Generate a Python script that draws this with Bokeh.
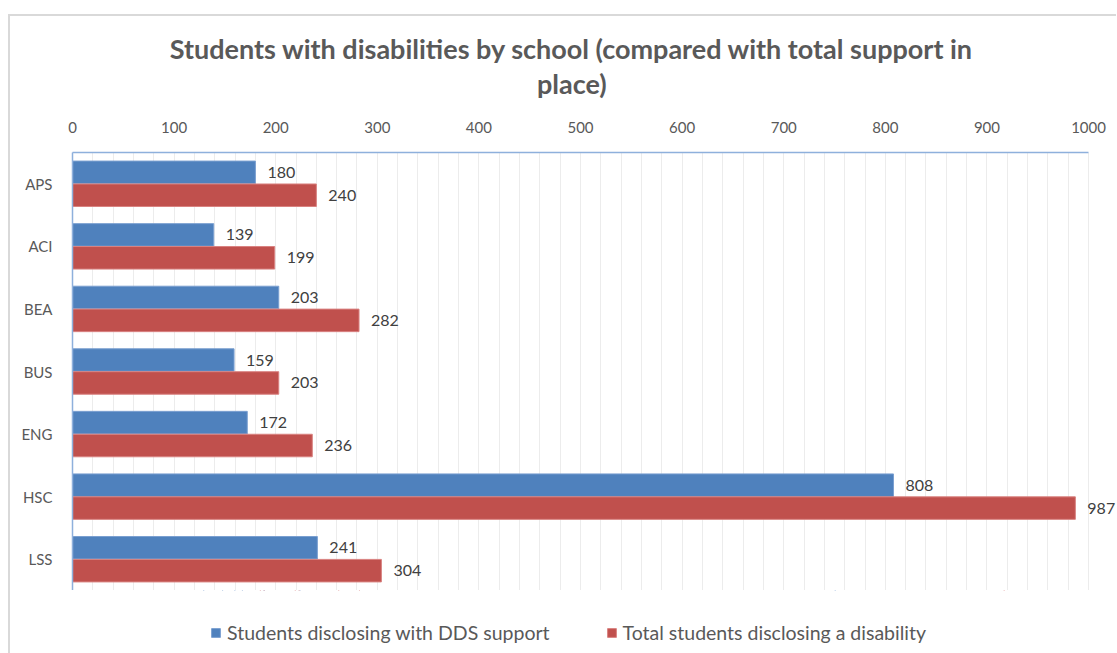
from bokeh.plotting import figure
from bokeh.layouts import column
from bokeh.models import (FactorRange, ColumnDataSource, Legend, LegendItem, Range1d,
                          SingleIntervalTicker, FixedTicker, LabelSet, Label)
from bokeh.transform import dodge
from bokeh.embed import file_html
from bokeh.resources import INLINE
from bokeh.core.properties import value

schools = ["APS", "ACI", "BEA", "BUS", "ENG", "HSC", "LSS"]
dds_support = [180, 139, 203, 159, 172, 808, 241]
total_disclosing = [240, 199, 282, 203, 236, 987, 304]
x_ticks = [0, 100, 200, 300, 400, 500, 600, 700, 800, 900, 1000]
title_lines = ["Students with disabilities by school (compared with total support in", "place)"]
series_names = ["Students disclosing with DDS support", "Total students disclosing a disability"]

BLUE = "#4f81bd"
RED = "#c0504d"
FONT = "Lato"
W = 1106

# ---------- header (chart title) ----------
HEAD_H = 90
head = figure(width=W, height=HEAD_H, x_range=Range1d(0, W), y_range=Range1d(0, HEAD_H),
              x_axis_type=None, y_axis_type=None, min_border=0,
              output_backend="svg", toolbar_location=None)
head.outline_line_color = None
head.grid.visible = False
for txt, ypos in zip(title_lines, (58, 23)):
    head.add_layout(Label(x=529, y=ypos, text=txt, text_align="center", text_baseline="middle",
                          text_font=FONT, text_font_size="27px", text_font_style="bold",
                          text_color="#595959"))

# ---------- main chart ----------
src = ColumnDataSource(dict(school=schools, dds=dds_support, total=total_disclosing,
                            dds_lbl=[str(v) for v in dds_support],
                            total_lbl=[str(v) for v in total_disclosing]))

# axis runs 0..1000; the frame extends a little further so the last label is not clipped
p = figure(y_range=FactorRange(factors=schools[::-1]), x_range=(0, 1027.5),
           x_axis_location="above", frame_width=1044, frame_height=438,
           min_border_left=62, min_border_right=0, min_border_top=46, min_border_bottom=0,
           output_backend="svg", toolbar_location=None)
p.title.visible = False

b1 = p.hbar(y=dodge("school", 0.183, range=p.y_range), right="dds", left=0, height=0.36,
            source=src, fill_color=BLUE, line_color="#7a9fd0", line_width=1)
b2 = p.hbar(y=dodge("school", -0.183, range=p.y_range), right="total", left=0, height=0.36,
            source=src, fill_color=RED, line_color="#d98280", line_width=1)

for col, lbl, off in (("dds", "dds_lbl", 0.183), ("total", "total_lbl", -0.183)):
    p.add_layout(LabelSet(x=col, y=dodge("school", off, range=p.y_range), text=lbl, source=src,
                          x_offset=12, text_baseline="middle", text_font=value(FONT),
                          text_font_size="16px", text_color="#404040"))

xa = p.xaxis[0]
xa.ticker = FixedTicker(ticks=x_ticks)
xa.bounds = (0, 1000)
xa.major_tick_line_color = None
xa.minor_tick_line_color = None
xa.axis_line_color = "#8eb0dc"
xa.axis_line_width = 1.5
xa.major_label_text_font = FONT
xa.major_label_text_font_size = "15px"
xa.major_label_text_color = "#595959"
xa.major_label_standoff = 14

ya = p.yaxis[0]
ya.major_tick_line_color = None
ya.minor_tick_line_color = None
ya.axis_line_color = "#8eb0dc"
ya.axis_line_width = 1.5
ya.major_label_text_font = FONT
ya.major_label_text_font_size = "15px"
ya.major_label_text_color = "#595959"
ya.major_label_standoff = 14

p.xgrid.ticker = SingleIntervalTicker(interval=20)
p.xgrid.bounds = (0, 1000)
p.xgrid.grid_line_color = "#ececec"
p.ygrid.grid_line_color = None
p.outline_line_color = None

# ---------- legend strip ----------
LEG_H = 63
leg = figure(width=W, height=LEG_H, x_range=Range1d(0, W), y_range=Range1d(0, LEG_H),
             x_axis_type=None, y_axis_type=None, min_border=0,
             output_backend="svg", toolbar_location=None)
leg.outline_line_color = None
leg.grid.visible = False
# legend-key renderers share the chart's data; their values fall outside this strip's range
k1 = leg.hbar(y="dds", right="dds", left="dds", height=1, source=src,
              fill_color=BLUE, line_color="#7a9fd0")
k2 = leg.hbar(y="total", right="total", left="total", height=1, source=src,
              fill_color=RED, line_color="#d98280")
legend = Legend(items=[LegendItem(label=series_names[0], renderers=[k1]),
                       LegendItem(label=series_names[1], renderers=[k2])],
                orientation="horizontal", location=(138, 9),
                label_text_font=FONT, label_text_font_size="19.5px", label_text_color="#595959",
                glyph_width=11, glyph_height=11, label_standoff=6, spacing=56,
                border_line_color=None, background_fill_alpha=0, margin=0, padding=0)
leg.add_layout(legend)

layout = column(head, p, leg, spacing=0)
layout.margin = (14, 0, 0, 8)
layout.styles = {"border-top": "2px solid #d9d9d9", "border-left": "2px solid #d9d9d9"}

open("out.html", "w").write(file_html(layout, INLINE))
